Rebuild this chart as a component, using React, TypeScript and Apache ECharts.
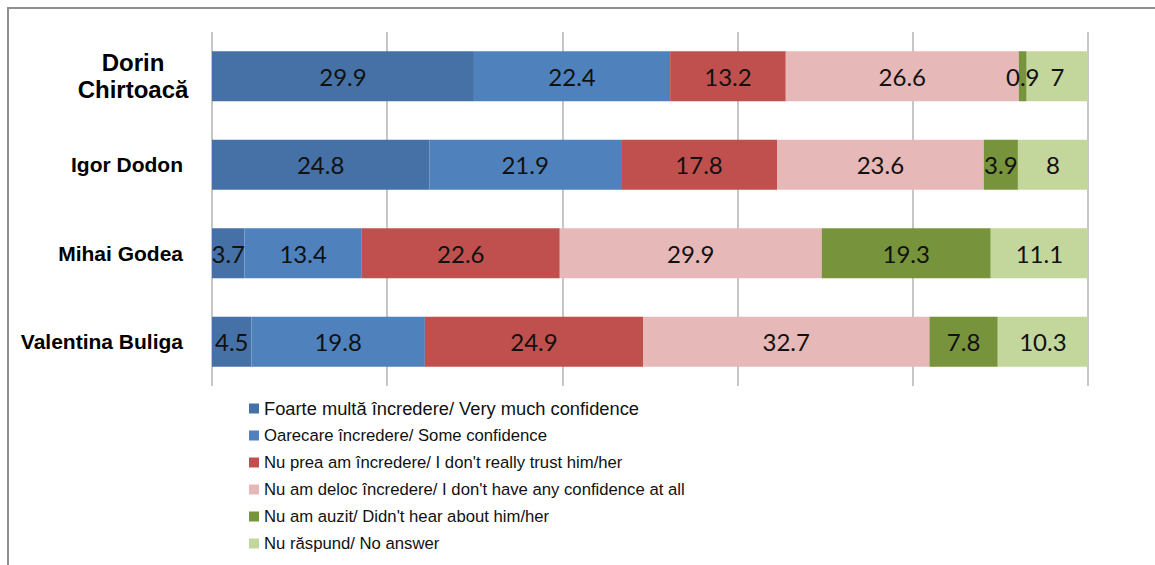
import React, { useEffect, useRef } from "react";
import * as echarts from "echarts";

const candidates = ["Dorin Chirtoacă", "Igor Dodon", "Mihai Godea", "Valentina Buliga"];
const seriesNames = [
  "Foarte multă încredere/ Very much confidence",
  "Oarecare încredere/ Some confidence",
  "Nu prea am încredere/ I don't really trust him/her",
  "Nu am deloc încredere/ I don't have any confidence at all",
  "Nu am auzit/ Didn't hear about him/her",
  "Nu răspund/ No answer",
];
const veryMuch = [29.9, 24.8, 3.7, 4.5];
const some = [22.4, 21.9, 13.4, 19.8];
const notReally = [13.2, 17.8, 22.6, 24.9];
const notAtAll = [26.6, 23.6, 29.9, 32.7];
const notHeard = [0.9, 3.9, 19.3, 7.8];
const noAnswer = [7, 8, 11.1, 10.3];
const seriesValues = [veryMuch, some, notReally, notAtAll, notHeard, noAnswer];
const colors = ["#4571a6", "#4f81bd", "#c0504d", "#e6b9b8", "#77933c", "#c3d69b"];

export default function App() {
  const ref = useRef<HTMLDivElement>(null);
  useEffect(() => {
    if (!ref.current) return;
    const chart = echarts.init(ref.current, undefined, { renderer: "svg" });
    const labelFont = "Lato, 'Open Sans', sans-serif";
    const catFont = "'Liberation Sans', Arial, sans-serif";
    chart.setOption({
      animation: false,
      backgroundColor: "#ffffff",
      graphic: [
        {
          type: "rect",
          shape: { x: 8, y: 8, width: 1300, height: 700 },
          style: { fill: "none", stroke: "#8f8f8f", lineWidth: 2 },
          silent: true,
        },
      ],
      grid: { left: 212, right: 67, top: 32, height: 354 },
      xAxis: {
        type: "value",
        min: 0,
        max: 100,
        interval: 20,
        axisLabel: { show: false },
        axisLine: { show: false },
        axisTick: { show: false },
        splitLine: { show: true, lineStyle: { color: "#b3b3b3", width: 1.5 } },
      },
      yAxis: {
        type: "category",
        inverse: true,
        data: candidates,
        axisLine: { show: false },
        axisTick: { show: false },
        axisLabel: {
          margin: 29,
          color: "#000",
          fontFamily: catFont,
          fontWeight: "bold",
          fontSize: 21,
          formatter: (v: string) =>
            v === "Dorin Chirtoacă" ? "{d|Dorin}\n{d|Chirtoacă}" : v,
          rich: {
            d: {
              fontSize: 24,
              fontWeight: "bold",
              fontFamily: catFont,
              color: "#000",
              width: 100,
              align: "center",
              lineHeight: 27,
            },
          },
        },
      },
      legend: {
        orient: "vertical",
        left: 244,
        top: 393,
        itemWidth: 10,
        itemHeight: 10,
        itemGap: 6,
        icon: "rect",
        textStyle: {
          fontFamily: "'Liberation Sans', Arial, sans-serif",
          fontSize: 16.7,
          color: "#111",
          lineHeight: 21,
        },
        data: seriesNames.map((n, i) =>
          i === 0 ? { name: n, textStyle: { fontSize: 18.3 } } : { name: n }
        ),
      },
      series: seriesValues.map((vals, i) => ({
        name: seriesNames[i],
        type: "bar",
        stack: "total",
        barWidth: 50,
        itemStyle: { color: colors[i] },
        label: {
          show: true,
          position: "inside",
          color: "#111",
          fontFamily: labelFont,
          fontSize: 24,
          textBorderWidth: 0,
        },
        data: vals,
      })),
    });
    return () => chart.dispose();
  }, []);
  return (
    <div
      ref={ref}
      style={{ position: "fixed", left: 0, top: 0, width: 1155, height: 565 }}
    />
  );
}
